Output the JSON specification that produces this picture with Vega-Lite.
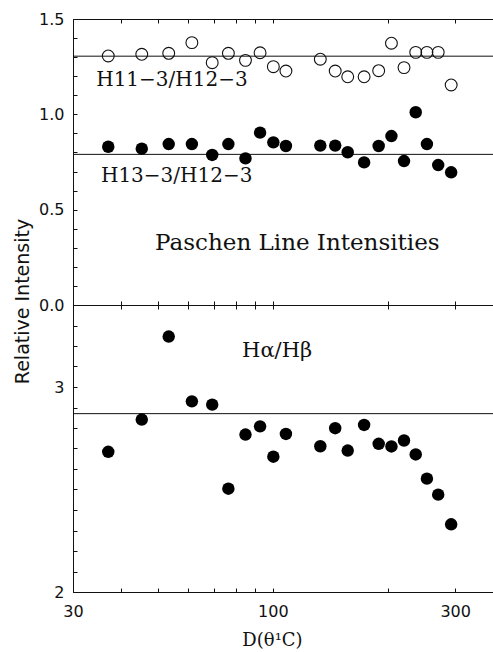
{
  "$schema": "https://vega.github.io/schema/vega-lite/v6.json",
  "background": "white",
  "padding": {"left": 13, "top": 11, "right": 0, "bottom": 0},
  "bounds": "flush",
  "spacing": 0,
  "config": {
    "view": {"stroke": null},
    "axis": {
      "grid": false,
      "domainColor": "#111",
      "domainWidth": 1,
      "tickColor": "#111",
      "tickWidth": 1,
      "tickSize": -4,
      "labelFont": "DejaVu Sans",
      "labelFontSize": 16,
      "labelColor": "#111",
      "titleFont": "DejaVu Sans",
      "titleFontSize": 19,
      "titleFontWeight": "normal",
      "titleColor": "#111"
    }
  },
  "datasets": {
    "paschen": [
      {"D": 37.1, "ratio": "H11-3/H12-3", "value": 1.306},
      {"D": 45.4, "ratio": "H11-3/H12-3", "value": 1.315},
      {"D": 53.4, "ratio": "H11-3/H12-3", "value": 1.320},
      {"D": 61.4, "ratio": "H11-3/H12-3", "value": 1.376},
      {"D": 69.4, "ratio": "H11-3/H12-3", "value": 1.271},
      {"D": 76.5, "ratio": "H11-3/H12-3", "value": 1.320},
      {"D": 84.8, "ratio": "H11-3/H12-3", "value": 1.283},
      {"D": 92.6, "ratio": "H11-3/H12-3", "value": 1.323},
      {"D": 100.3, "ratio": "H11-3/H12-3", "value": 1.250},
      {"D": 108.2, "ratio": "H11-3/H12-3", "value": 1.227},
      {"D": 133.1, "ratio": "H11-3/H12-3", "value": 1.289},
      {"D": 145.6, "ratio": "H11-3/H12-3", "value": 1.227},
      {"D": 157.0, "ratio": "H11-3/H12-3", "value": 1.197},
      {"D": 173.3, "ratio": "H11-3/H12-3", "value": 1.197},
      {"D": 189.2, "ratio": "H11-3/H12-3", "value": 1.229},
      {"D": 204.3, "ratio": "H11-3/H12-3", "value": 1.373},
      {"D": 220.4, "ratio": "H11-3/H12-3", "value": 1.245},
      {"D": 236.5, "ratio": "H11-3/H12-3", "value": 1.325},
      {"D": 253.0, "ratio": "H11-3/H12-3", "value": 1.325},
      {"D": 270.8, "ratio": "H11-3/H12-3", "value": 1.325},
      {"D": 292.8, "ratio": "H11-3/H12-3", "value": 1.154},
      {"D": 37.1, "ratio": "H13-3/H12-3", "value": 0.830},
      {"D": 45.4, "ratio": "H13-3/H12-3", "value": 0.820},
      {"D": 53.4, "ratio": "H13-3/H12-3", "value": 0.844},
      {"D": 61.4, "ratio": "H13-3/H12-3", "value": 0.844},
      {"D": 69.4, "ratio": "H13-3/H12-3", "value": 0.787},
      {"D": 76.5, "ratio": "H13-3/H12-3", "value": 0.844},
      {"D": 84.8, "ratio": "H13-3/H12-3", "value": 0.769},
      {"D": 92.6, "ratio": "H13-3/H12-3", "value": 0.904},
      {"D": 100.3, "ratio": "H13-3/H12-3", "value": 0.853},
      {"D": 108.2, "ratio": "H13-3/H12-3", "value": 0.834},
      {"D": 133.1, "ratio": "H13-3/H12-3", "value": 0.836},
      {"D": 145.6, "ratio": "H13-3/H12-3", "value": 0.836},
      {"D": 157.0, "ratio": "H13-3/H12-3", "value": 0.801},
      {"D": 173.3, "ratio": "H13-3/H12-3", "value": 0.748},
      {"D": 189.2, "ratio": "H13-3/H12-3", "value": 0.834},
      {"D": 204.3, "ratio": "H13-3/H12-3", "value": 0.886},
      {"D": 220.4, "ratio": "H13-3/H12-3", "value": 0.755},
      {"D": 236.5, "ratio": "H13-3/H12-3", "value": 1.011},
      {"D": 253.0, "ratio": "H13-3/H12-3", "value": 0.844},
      {"D": 270.8, "ratio": "H13-3/H12-3", "value": 0.734},
      {"D": 292.8, "ratio": "H13-3/H12-3", "value": 0.696}
    ],
    "paschenRef": [
      {"ratio": "H11-3/H12-3", "value": 1.305},
      {"ratio": "H13-3/H12-3", "value": 0.79}
    ],
    "paschenLabels": [
      {"D": 34.5, "value": 1.149, "text": "H11−3/H12−3"},
      {"D": 35.5, "value": 0.645, "text": "H13−3/H12−3"}
    ],
    "paschenTitle": [
      {"D": 49.2, "value": 0.289, "text": "Paschen Line Intensities"}
    ],
    "balmer": [
      {"D": 37.1, "value": 2.684},
      {"D": 45.4, "value": 2.841},
      {"D": 53.4, "value": 3.246},
      {"D": 61.4, "value": 2.930},
      {"D": 69.4, "value": 2.914},
      {"D": 76.5, "value": 2.504},
      {"D": 84.8, "value": 2.768},
      {"D": 92.6, "value": 2.808},
      {"D": 100.3, "value": 2.660},
      {"D": 108.2, "value": 2.771},
      {"D": 133.1, "value": 2.711},
      {"D": 145.6, "value": 2.799},
      {"D": 157.0, "value": 2.690},
      {"D": 173.3, "value": 2.815},
      {"D": 189.2, "value": 2.723},
      {"D": 204.3, "value": 2.710},
      {"D": 220.4, "value": 2.739},
      {"D": 236.5, "value": 2.671},
      {"D": 253.0, "value": 2.553},
      {"D": 270.8, "value": 2.475},
      {"D": 292.8, "value": 2.330}
    ],
    "balmerRef": [
      {"value": 2.87}
    ],
    "balmerLabel": [
      {"D": 83.1, "value": 3.147, "text": "Hα/Hβ"}
    ]
  },
  "vconcat": [
    {
      "width": 421,
      "height": 286,
      "layer": [
        {
          "data": {"name": "paschenRef"},
          "mark": {"type": "rule", "color": "#111", "strokeWidth": 1},
          "encoding": {
            "y": {
              "field": "value", "type": "quantitative",
              "scale": {"domain": [0, 1.5], "nice": false, "zero": false},
              "axis": {
                "values": [0, 0.1, 0.2, 0.3, 0.4, 0.5, 0.6, 0.7, 0.8, 0.9, 1, 1.1, 1.2, 1.3, 1.4, 1.5],
                "labelExpr": "indexof([0, 0.5, 1, 1.5], datum.value) >= 0 ? format(datum.value, '.1f') : ''",
                "labelPadding": 13,
                "title": "Relative Intensity",
                "titleX": -45,
                "titleY": 282,
                "titleBaseline": "alphabetic",
                "titleAlign": "center"
              }
            }
          }
        },
        {
          "data": {"name": "paschen"},
          "transform": [{"filter": "datum.ratio == 'H11-3/H12-3'"}],
          "mark": {"type": "point", "shape": "circle", "filled": false, "stroke": "#111", "strokeWidth": 1.1, "size": 140, "opacity": 1},
          "encoding": {
            "x": {
              "field": "D", "type": "quantitative",
              "scale": {"type": "log", "domain": [30, 379], "nice": false},
              "axis": {"orient": "top", "values": [30, 40, 50, 60, 70, 80, 90, 100, 200, 300], "labels": false, "title": null}
            },
            "y": {
              "field": "value", "type": "quantitative",
              "scale": {"domain": [0, 1.5], "nice": false, "zero": false},
              "axis": {
                "values": [0, 0.1, 0.2, 0.3, 0.4, 0.5, 0.6, 0.7, 0.8, 0.9, 1, 1.1, 1.2, 1.3, 1.4, 1.5],
                "labelExpr": "indexof([0, 0.5, 1, 1.5], datum.value) >= 0 ? format(datum.value, '.1f') : ''",
                "labelPadding": 13,
                "title": "Relative Intensity",
                "titleX": -45,
                "titleY": 282,
                "titleBaseline": "alphabetic",
                "titleAlign": "center"
              }
            }
          }
        },
        {
          "data": {"name": "paschen"},
          "transform": [{"filter": "datum.ratio == 'H13-3/H12-3'"}],
          "mark": {"type": "circle", "color": "#000", "size": 155, "opacity": 1},
          "encoding": {
            "x": {
              "field": "D", "type": "quantitative",
              "scale": {"type": "log", "domain": [30, 379], "nice": false},
              "axis": {"orient": "bottom", "values": [30, 40, 50, 60, 70, 80, 90, 100, 200, 300], "labels": false, "title": null}
            },
            "y": {
              "field": "value", "type": "quantitative",
              "scale": {"domain": [0, 1.5], "nice": false, "zero": false},
              "axis": {
                "values": [0, 0.1, 0.2, 0.3, 0.4, 0.5, 0.6, 0.7, 0.8, 0.9, 1, 1.1, 1.2, 1.3, 1.4, 1.5],
                "labelExpr": "indexof([0, 0.5, 1, 1.5], datum.value) >= 0 ? format(datum.value, '.1f') : ''",
                "labelPadding": 13,
                "title": "Relative Intensity",
                "titleX": -45,
                "titleY": 282,
                "titleBaseline": "alphabetic",
                "titleAlign": "center"
              }
            }
          }
        },
        {
          "data": {"name": "paschenLabels"},
          "mark": {"type": "text", "font": "DejaVu Serif", "fontSize": 20, "align": "left", "baseline": "alphabetic", "color": "#111"},
          "encoding": {
            "x": {"field": "D", "type": "quantitative", "scale": {"type": "log", "domain": [30, 379], "nice": false}, "axis": null},
            "y": {
              "field": "value", "type": "quantitative",
              "scale": {"domain": [0, 1.5], "nice": false, "zero": false},
              "axis": {
                "values": [0, 0.1, 0.2, 0.3, 0.4, 0.5, 0.6, 0.7, 0.8, 0.9, 1, 1.1, 1.2, 1.3, 1.4, 1.5],
                "labelExpr": "indexof([0, 0.5, 1, 1.5], datum.value) >= 0 ? format(datum.value, '.1f') : ''",
                "labelPadding": 13,
                "title": "Relative Intensity",
                "titleX": -45,
                "titleY": 282,
                "titleBaseline": "alphabetic",
                "titleAlign": "center"
              }
            },
            "text": {"field": "text"}
          }
        },
        {
          "data": {"name": "paschenTitle"},
          "mark": {"type": "text", "font": "DejaVu Serif", "fontSize": 23, "align": "left", "baseline": "alphabetic", "color": "#111"},
          "encoding": {
            "x": {"field": "D", "type": "quantitative", "scale": {"type": "log", "domain": [30, 379], "nice": false}, "axis": null},
            "y": {
              "field": "value", "type": "quantitative",
              "scale": {"domain": [0, 1.5], "nice": false, "zero": false},
              "axis": {
                "values": [0, 0.1, 0.2, 0.3, 0.4, 0.5, 0.6, 0.7, 0.8, 0.9, 1, 1.1, 1.2, 1.3, 1.4, 1.5],
                "labelExpr": "indexof([0, 0.5, 1, 1.5], datum.value) >= 0 ? format(datum.value, '.1f') : ''",
                "labelPadding": 13,
                "title": "Relative Intensity",
                "titleX": -45,
                "titleY": 282,
                "titleBaseline": "alphabetic",
                "titleAlign": "center"
              }
            },
            "text": {"field": "text"}
          }
        }
      ]
    },
    {
      "width": 421,
      "height": 287,
      "layer": [
        {
          "data": {"name": "balmerRef"},
          "mark": {"type": "rule", "color": "#111", "strokeWidth": 1},
          "encoding": {
            "y": {
              "field": "value", "type": "quantitative",
              "scale": {"domain": [2, 3.4], "nice": false, "zero": false},
              "axis": {
                "values": [2, 2.1, 2.2, 2.3, 2.4, 2.5, 2.6, 2.7, 2.8, 2.9, 3, 3.1, 3.2, 3.3, 3.4],
                "labelExpr": "indexof([2, 3], datum.value) >= 0 ? format(datum.value, 'd') : ''",
                "labelPadding": 13,
                "title": null
              }
            }
          }
        },
        {
          "data": {"name": "balmer"},
          "mark": {"type": "circle", "color": "#000", "size": 155, "opacity": 1},
          "encoding": {
            "x": {
              "field": "D", "type": "quantitative",
              "scale": {"type": "log", "domain": [30, 379], "nice": false},
              "axis": {
                "orient": "bottom",
                "values": [30, 40, 50, 60, 70, 80, 90, 100, 200, 300],
                "labelExpr": "indexof([30, 100, 300], datum.value) >= 0 ? format(datum.value, 'd') : ''",
                "labelFlush": false,
                "labelPadding": 15,
                "title": "D(θ¹C)",
                "titleFont": "DejaVu Serif",
                "titleFontSize": 18,
                "titleX": 199,
                "titleY": 53,
                "titleBaseline": "alphabetic"
              }
            },
            "y": {
              "field": "value", "type": "quantitative",
              "scale": {"domain": [2, 3.4], "nice": false, "zero": false},
              "axis": {
                "values": [2, 2.1, 2.2, 2.3, 2.4, 2.5, 2.6, 2.7, 2.8, 2.9, 3, 3.1, 3.2, 3.3, 3.4],
                "labelExpr": "indexof([2, 3], datum.value) >= 0 ? format(datum.value, 'd') : ''",
                "labelPadding": 13,
                "title": null
              }
            }
          }
        },
        {
          "data": {"name": "balmerLabel"},
          "mark": {"type": "text", "font": "DejaVu Serif", "fontSize": 21, "align": "left", "baseline": "alphabetic", "color": "#111"},
          "encoding": {
            "x": {
              "field": "D", "type": "quantitative",
              "scale": {"type": "log", "domain": [30, 379], "nice": false},
              "axis": {"orient": "top", "values": [30, 40, 50, 60, 70, 80, 90, 100, 200, 300], "labels": false, "title": null}
            },
            "y": {
              "field": "value", "type": "quantitative",
              "scale": {"domain": [2, 3.4], "nice": false, "zero": false},
              "axis": {
                "values": [2, 2.1, 2.2, 2.3, 2.4, 2.5, 2.6, 2.7, 2.8, 2.9, 3, 3.1, 3.2, 3.3, 3.4],
                "labelExpr": "indexof([2, 3], datum.value) >= 0 ? format(datum.value, 'd') : ''",
                "labelPadding": 13,
                "title": null
              }
            },
            "text": {"field": "text"}
          }
        }
      ]
    }
  ]
}
